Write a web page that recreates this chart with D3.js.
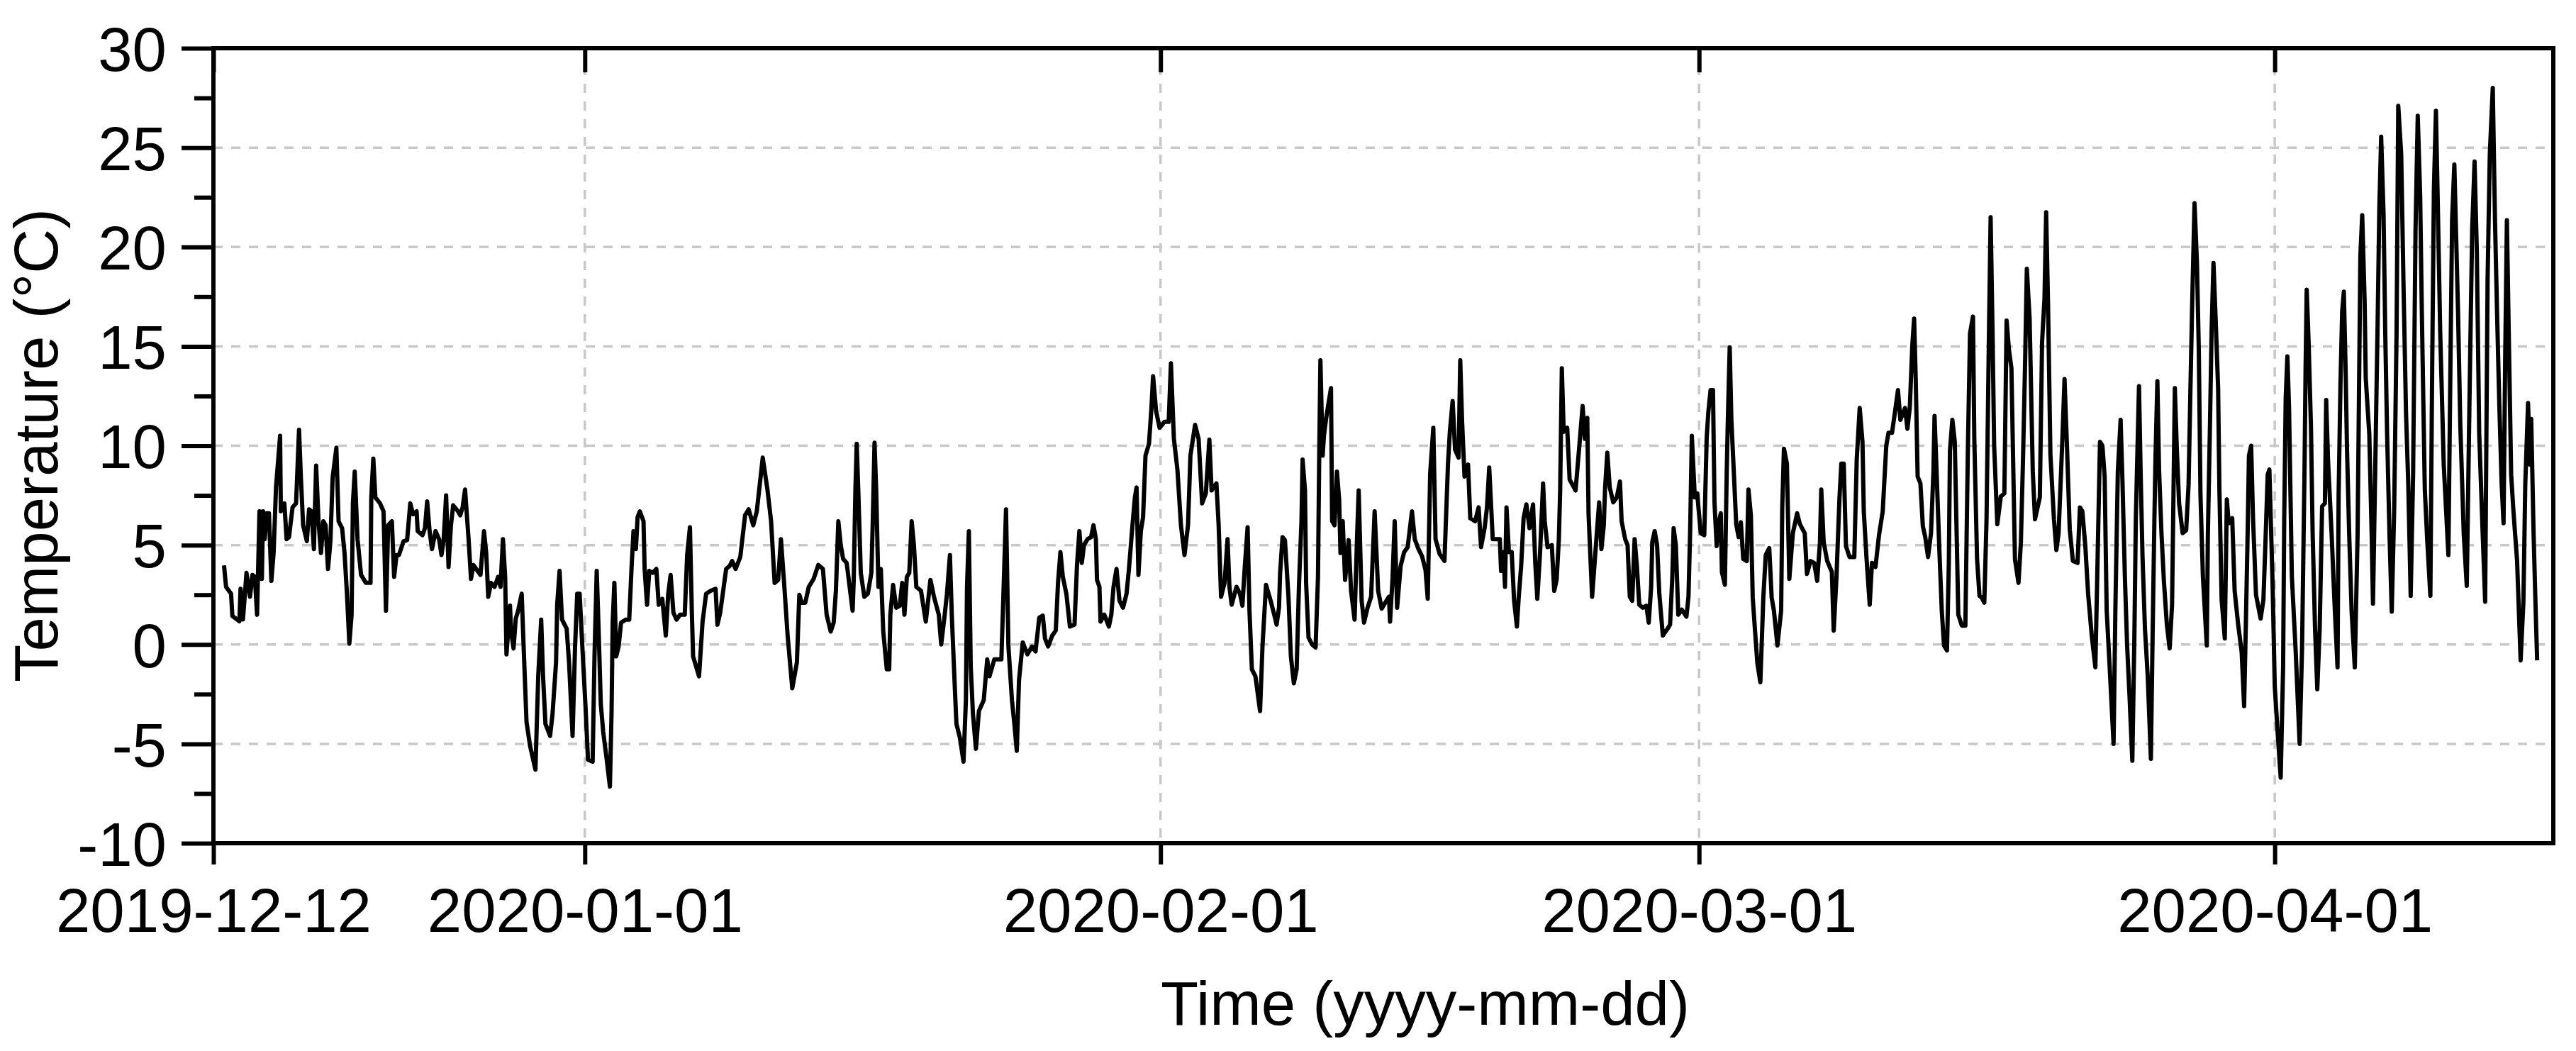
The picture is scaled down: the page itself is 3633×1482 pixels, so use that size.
<!DOCTYPE html>
<html>
<head>
<meta charset="utf-8">
<script src="https://cdn.jsdelivr.net/npm/d3@7"></script>
<style>
  body { margin: 0; background: #fff; }
  text { font-family: "Liberation Sans", Arial, sans-serif; fill: #000; }
</style>
</head>
<body>
<svg id="chart"></svg>
<script>
const startDate = '2019-12-12'
const endDate = '2020-04-16'
const xTickDates = ['2019-12-12', '2020-01-01', '2020-02-01', '2020-03-01', '2020-04-01']
const yTicks = [-10, -5, 0, 5, 10, 15, 20, 25, 30]
const yMinorTicks = [-7.5, -2.5, 2.5, 7.5, 12.5, 17.5, 22.5, 27.5]

// days since 2019-12-12 00:00
const dayOffset = [
  0.57,0.68,0.95,1.02,1.40,1.46,1.59,1.78,1.97,2.10,2.23,2.35,2.48,2.61,2.67,2.76,2.86,2.99,3.12,3.24,3.37,3.59,3.63,3.82,3.94,4.07,4.26,4.45,4.61,4.71,4.83,5.03,5.15,5.28,5.41,5.53,5.66,5.79,5.92,6.04,6.17,6.30,6.42,6.62,6.74,6.93,7.06,7.19,7.32,7.44,7.51,7.61,7.76,7.95,8.21,8.46,8.50,8.61,8.72,8.97,9.16,9.29,9.41,9.61,9.73,9.86,9.99,10.24,10.43,10.60,10.75,10.94,11.00,11.26,11.39,11.51,11.64,
  11.77,11.96,12.15,12.28,12.40,12.53,12.66,12.79,12.91,13.17,13.29,13.42,13.55,13.74,13.87,14.00,14.38,14.57,14.69,14.80,14.95,15.14,15.33,15.46,15.59,15.71,15.78,15.97,16.03,16.16,16.28,16.41,16.60,16.73,16.86,17.05,17.34,17.49,17.65,17.75,17.88,18.13,18.26,18.45,18.51,18.64,18.77,19.02,19.15,19.34,19.47,19.59,19.72,19.91,20.04,20.17,20.42,20.52,20.64,20.74,20.86,20.99,21.18,21.35,21.44,21.50,21.59,21.69,21.82,21.95,22.20,22.39,22.52,22.62,22.75,22.84,22.96,
  23.16,23.22,23.35,23.47,23.66,23.85,23.98,24.17,24.36,24.49,24.62,24.77,24.94,25.13,25.38,25.51,25.66,25.76,25.83,26.15,26.34,26.53,26.78,27.04,27.14,27.29,27.61,27.80,27.93,28.12,28.37,28.63,28.82,29.07,29.26,29.58,29.84,30.03,30.22,30.41,30.56,30.73,30.92,31.17,31.42,31.55,31.68,31.87,32.06,32.32,32.57,32.82,33.02,33.24,33.40,33.52,33.65,33.78,33.91,34.10,34.22,
  34.42,34.48,34.57,34.64,34.73,34.86,35.05,35.24,35.43,35.50,35.60,35.69,35.81,35.94,36.07,36.26,36.39,36.45,36.60,36.77,36.96,37.09,37.21,37.34,37.47,37.60,37.72,37.85,38.10,38.36,38.61,38.80,39.06,39.19,39.38,39.50,39.66,39.76,39.89,40.01,40.20,40.39,40.52,40.58,40.68,40.78,40.90,41.06,41.22,41.48,41.67,41.79,42.05,42.43,42.56,42.68,42.81,43.00,43.13,43.26,43.38,43.58,43.83,44.08,44.27,44.47,44.66,44.78,44.95,45.17,45.36,45.48,45.61,
  45.74,45.93,46.12,46.37,46.50,46.63,46.76,46.88,47.07,47.26,47.39,47.52,47.58,47.71,47.77,47.97,48.22,48.35,48.47,48.63,48.79,48.98,49.17,49.30,49.49,49.62,49.71,49.81,49.94,50.06,50.19,50.38,50.51,50.60,50.76,50.95,51.21,51.44,51.56,51.72,51.91,52.10,52.29,52.48,52.61,52.86,53.05,53.24,53.44,53.63,53.75,54.01,54.13,54.26,54.45,54.61,54.71,54.83,55.09,55.28,55.41,55.53,55.69,55.79,55.92,56.11,56.36,56.49,56.68,56.93,57.19,
  57.25,57.38,57.44,57.57,57.70,57.89,58.02,58.18,58.33,58.46,58.59,58.65,58.78,58.84,58.97,59.16,59.35,59.48,59.54,59.61,59.73,59.80,59.92,60.18,60.24,60.37,60.50,60.62,60.69,60.81,60.94,61.13,61.26,61.45,61.58,61.67,61.83,61.96,62.15,62.34,62.53,62.72,62.91,63.10,63.30,63.36,63.49,63.61,63.74,63.93,64.12,64.31,64.54,64.69,64.89,65.08,65.27,65.39,65.52,65.69,65.81,66.03,66.29,66.48,66.58,66.73,66.86,67.05,67.14,67.24,67.37,67.56,67.68,67.94,68.13,68.26,68.45,68.58,68.70,68.89,
  69.02,69.27,69.34,69.47,69.55,69.63,69.76,69.91,70.04,70.19,70.29,70.42,70.55,70.70,70.87,71.06,71.18,71.29,71.44,71.60,71.69,71.84,72.07,72.20,72.33,72.45,72.52,72.61,72.71,72.90,73.03,73.35,73.54,73.73,73.85,73.98,74.05,74.24,74.43,74.62,74.74,74.87,74.94,75.06,75.19,75.38,75.57,75.74,75.83,76.02,76.15,76.27,76.40,76.53,76.65,76.78,76.97,77.16,77.29,77.42,77.48,77.61,77.74,77.86,78.05,78.31,78.44,78.56,78.63,78.75,78.88,79.07,79.32,79.43,79.52,79.61,79.77,79.90,
  80.09,80.28,80.41,80.50,80.62,80.75,80.83,80.95,81.04,81.17,81.23,81.39,81.49,81.55,81.65,81.74,81.87,82.00,82.13,82.25,82.38,82.57,82.66,82.79,82.89,83.02,83.14,83.30,83.46,83.59,83.78,83.91,84.03,84.22,84.42,84.48,84.57,84.73,84.86,85.05,85.28,85.43,85.69,85.81,86.00,86.20,86.36,86.51,86.58,86.71,86.90,87.15,87.25,87.40,87.56,87.66,87.79,87.91,88.10,88.36,88.49,88.65,88.80,88.87,89.02,89.19,89.31,89.50,89.69,89.89,90.08,90.20,90.39,90.55,90.71,90.84,91.09,91.22,91.35,91.48,91.58,91.67,91.77,
  91.92,92.05,92.18,92.33,92.49,92.62,92.68,92.79,92.94,93.07,93.19,93.35,93.45,93.51,93.64,93.77,93.85,93.96,94.15,94.34,94.47,94.59,94.75,94.82,94.97,95.10,95.23,95.36,95.48,95.61,95.70,95.80,95.89,96.06,96.25,96.44,96.56,96.69,96.82,97.01,97.20,97.33,97.45,97.56,97.65,97.80,97.97,98.09,98.35,98.47,98.60,98.69,98.79,98.92,99.11,99.24,99.36,99.55,99.68,99.81,99.96,100.13,100.38,100.51,100.64,100.80,100.95,101.15,101.34,101.46,101.59,101.72,101.84,101.95,102.10,102.32,102.42,102.55,102.70,102.80,102.93,103.05,
  103.18,103.33,103.44,103.52,103.60,103.69,103.78,103.88,104.01,104.16,104.33,104.42,104.52,104.58,104.68,104.77,104.90,105.03,105.19,105.34,105.47,105.53,105.62,105.73,105.85,106.04,106.23,106.36,106.45,106.55,106.68,106.81,106.91,107.00,107.13,107.34,107.40,107.51,107.60,107.70,107.82,107.95,108.02,108.14,108.31,108.42,108.52,108.71,108.84,109.03,109.22,109.35,109.45,109.54,109.61,109.73,109.83,109.99,110.24,110.39,110.50,110.62,110.71,110.88,111.00,111.16,111.32,111.45,111.51,111.59,111.68,111.77,111.92,112.13,112.34,112.47,112.60,112.66,112.72,112.82,112.95,113.04,113.17,113.29,113.42,113.55,113.70,113.77,113.87,114.06,114.21,114.38,
  114.44,114.54,114.63,114.72,114.82,114.89,115.01,115.14,115.31,115.46,115.52,115.61,115.71,115.84,115.90,116.09,116.22,116.29,116.41,116.54,116.63,116.73,116.86,116.95,117.05,117.18,117.30,117.43,117.56,117.65,117.81,117.94,118.07,118.19,118.32,118.45,118.58,118.70,118.83,118.92,119.08,119.21,119.38,119.47,119.57,119.68,119.78,119.91,120.10,120.35,120.48,120.55,120.67,120.87,120.99,121.18,121.34,121.50,121.63,121.76,121.88,122.01,122.20,122.33,122.46,122.58,122.74,122.86,122.97,123.09,123.22,123.32,123.41,123.50,123.60,123.73,123.85,124.05,124.24,124.39,124.49,124.64,124.74,124.81,124.94,125.06,125.13
]

// temperature in °C
const temperature = [
  3.98,2.9,2.55,1.43,1.17,2.8,1.26,3.6,2.4,3.5,3.4,1.5,6.7,3.3,6.7,5.3,6.6,6.6,3.2,4.6,7.9,10.5,6.7,7.1,5.3,5.4,6.9,7.1,10.8,8.4,6.0,5.2,6.8,6.7,4.8,9.0,6.2,4.6,6.2,6.0,3.8,5.2,8.4,9.9,6.2,5.85,4.6,2.55,0.04,1.5,7.1,8.7,5.3,3.5,3.1,3.1,7.4,9.35,7.4,7.1,6.7,1.7,6.0,6.2,3.4,4.5,4.5,5.2,5.25,7.1,6.55,6.7,5.7,5.5,5.85,7.2,5.7,
  4.8,5.7,5.3,4.5,5.3,7.5,3.9,6.0,7.0,6.7,6.5,6.9,7.8,5.3,3.3,4.0,3.5,5.7,4.6,2.4,3.1,2.9,3.4,2.9,5.3,3.4,-0.5,1.95,0.65,-0.2,1.3,1.7,2.55,-0.75,-3.9,-5.1,-6.3,-1.6,1.25,-1.6,-4.0,-4.6,-3.5,-0.9,2.0,3.7,1.25,0.8,-0.9,-4.6,-0.2,2.55,2.55,-0.9,-3.2,-5.8,-5.9,-0.6,3.7,0.8,-3.0,-4.4,-5.8,-7.15,-3.35,1.15,3.1,-0.6,-0.1,1.1,1.25,1.25,3.95,5.7,4.8,6.4,6.7,
  6.2,3.8,2.0,3.7,3.6,3.8,2.0,2.3,0.45,2.55,3.5,1.6,1.25,1.5,1.5,4.5,5.9,1.7,-0.6,-1.6,1.15,2.55,2.7,2.8,1.0,1.6,3.8,3.95,4.2,3.8,4.4,6.5,6.8,6.0,6.7,9.4,7.75,6.2,3.1,3.25,5.3,3.1,0.45,-2.2,-0.9,2.5,2.1,2.1,2.9,3.3,4.0,3.8,1.5,0.65,1.1,2.7,6.2,5.0,4.3,4.1,3.2,
  1.7,3.25,7.75,10.1,7.6,3.6,2.4,2.55,3.6,6.0,10.15,7.75,2.9,3.8,0.65,-1.25,-1.25,1.5,3.0,1.85,1.95,3.1,1.5,3.4,3.6,6.2,5.0,2.9,2.7,1.15,3.25,2.4,1.5,0.0,1.5,2.55,4.5,1.5,-1.45,-4.0,-4.7,-5.9,-2.8,2.9,5.7,-1.1,-3.5,-5.25,-3.35,-2.8,-0.75,-1.6,-0.75,-0.75,3.1,6.8,-0.1,-2.8,-4.0,-5.35,-1.8,0.1,-0.5,-0.1,-0.35,1.35,1.45,0.3,-0.1,0.45,0.7,3.1,4.65,
  3.4,2.55,0.9,1.0,3.95,5.7,4.1,5.0,5.3,5.4,6.0,5.3,3.25,2.9,1.15,1.5,0.9,1.5,2.9,3.8,2.2,1.85,2.55,3.8,6.0,7.4,7.9,3.5,5.7,6.4,9.5,10.1,11.9,13.5,11.75,10.9,11.2,11.2,14.15,10.35,8.8,6.0,4.5,6.0,9.5,11.05,10.35,7.1,7.6,10.3,7.75,8.1,6.0,2.4,3.1,5.3,2.9,2.0,2.9,2.55,1.95,3.8,5.9,1.7,-1.25,-1.6,-3.35,-0.1,3.0,2.2,1.25,
  1.0,1.85,3.6,5.4,5.25,2.4,-0.6,-1.95,-1.25,3.1,6.2,9.3,7.75,3.1,0.35,0.0,-0.15,3.4,9.0,14.3,9.5,10.5,11.4,12.9,6.2,6.0,8.7,7.25,4.6,6.2,3.25,5.25,2.7,1.25,5.3,7.75,2.2,1.1,1.85,2.4,6.7,2.7,1.8,2.1,2.4,1.15,3.25,6.2,1.85,3.95,4.65,4.9,6.7,5.3,4.8,4.45,3.75,2.3,8.6,10.9,5.3,4.55,4.2,9.1,10.7,12.25,9.8,9.4,14.3,11.2,8.45,9.05,6.35,6.2,6.9,4.9,5.85,6.9,8.9,5.3,
  5.3,5.3,3.7,4.65,2.9,6.9,4.65,4.65,2.2,0.9,2.4,3.95,6.35,7.05,5.85,7.05,4.1,2.3,4.65,8.1,6.2,4.9,5.0,2.7,3.25,5.3,7.75,13.9,10.7,10.9,8.3,7.75,9.85,12.0,10.35,11.4,6.55,2.4,4.8,7.15,4.8,6.0,7.9,9.65,7.9,7.15,7.4,8.2,6.2,5.3,5.0,2.4,2.2,5.3,3.95,2.0,1.85,1.95,1.1,2.9,5.15,5.7,5.0,2.55,0.45,0.8,1.0,3.4,5.85,5.0,1.5,1.75,1.4,2.4,5.7,10.5,7.4,7.6,
  5.6,5.5,10.4,11.7,12.8,12.8,7.15,4.95,6.05,6.6,3.65,3.0,8.7,11.3,14.95,11.3,8.7,6.05,5.4,6.15,4.3,4.2,7.8,6.5,2.35,0.6,-0.95,-1.9,2.35,4.5,4.85,2.35,1.7,-0.05,1.7,6.9,9.85,9.1,3.3,5.6,6.6,6.05,5.6,3.55,4.2,4.1,3.2,5.15,7.8,5.15,4.2,3.65,0.7,3.4,7.35,9.1,9.1,4.95,4.4,4.4,9.3,11.9,10.2,6.7,4.3,2.0,4.1,3.9,5.5,6.7,10.0,10.65,10.65,11.7,12.8,11.3,11.9,10.85,11.95,15.0,16.4,13.25,8.45,
  8.1,5.95,5.4,4.4,5.6,8.7,11.5,8.7,4.75,1.7,-0.05,-0.3,4.1,9.75,11.3,10.2,6.5,1.5,0.95,0.95,9.55,15.65,16.5,10.4,4.3,2.45,2.35,2.1,6.3,15.65,21.5,15.9,10.0,6.05,7.45,7.6,16.3,14.8,13.9,4.3,3.1,5.15,9.55,14.35,18.9,16.4,8.7,6.3,7.4,15.2,17.4,21.75,17.2,9.55,6.3,4.75,5.6,10.0,13.35,10.0,5.8,4.2,4.1,6.9,6.7,4.95,2.55,0.4,-1.15,4.3,10.2,10.0,8.45,1.7,-0.95,-5.0,1.9,8.7,11.3,8.2,3.4,-0.05,
  -2.6,-5.85,0.3,6.35,9.5,13.0,8.55,4.4,0.8,-1.6,-5.75,0.3,6.35,9.5,13.25,8.8,5.6,3.2,1.0,-0.2,2.0,6.35,12.9,9.75,7.1,5.6,5.75,8.05,12.4,17.0,22.2,19.2,14.85,7.55,3.45,-0.05,5.6,10.95,15.8,19.2,16.3,12.9,7.8,2.25,0.3,7.3,6.1,6.35,2.7,1.0,-0.4,-3.1,1.3,5.6,9.5,10.0,6.35,2.5,1.3,2.25,5.15,8.55,8.8,3.2,-2.1,-4.5,-6.7,-1.15,6.35,12.4,14.5,11.9,3.45,-0.4,-5.0,-0.2,8.55,13.85,17.85,15.3,10.95,5.6,0.8,-2.25,0.8,6.95,7.1,12.3,9.25,5.6,2.25,-1.15,
  7.55,13.15,16.75,17.75,13.65,9.85,5.5,1.65,-1.15,5.5,11.1,19.55,21.6,17.25,13.4,10.6,5.5,2.05,8.8,16.2,21.85,25.55,21.6,15.7,10.6,5.5,1.65,6.75,15.7,27.1,24.65,17.75,11.6,8.05,2.45,8.55,20.85,26.6,22.6,16.75,7.8,5.25,2.45,13.15,22.9,26.85,22.1,15.7,9.05,4.5,15.7,21.35,24.15,16.75,11.1,5.5,2.95,13.15,20.85,24.3,19.8,10.6,5.5,2.15,18.3,24.65,28.0,21.35,16.75,12.15,8.05,6.1,14.45,21.35,15.7,8.55,6.75,4.2,-0.8,2.15,8.05,12.15,9.05,11.35,5.5,1.4,-0.8
]

const width = 3633
const height = 1482
const plotLeft = 301
const plotRight = 3601
const plotTop = 68
const plotBottom = 1189
const fontSize = 87

const parseDate = d3.utcParse('%Y-%m-%d')
const t0 = parseDate(startDate)
const n = Math.min(dayOffset.length, temperature.length)
if (dayOffset.length !== temperature.length) console.log('length mismatch', dayOffset.length, temperature.length)
const data = d3.range(n).map(i => ({ time: new Date(t0.getTime() + dayOffset[i] * 864e5), temp: temperature[i] }))

const svg = d3.select('#chart')
  .attr('width', width)
  .attr('height', height)

const xScale = d3.scaleUtc().domain([t0, parseDate(endDate)]).range([plotLeft, plotRight])
const yScale = d3.scaleLinear().domain([-10, 30]).range([plotBottom, plotTop])

// grid lines
svg.append('g').selectAll('line')
  .data(yTicks.filter(d => d > -10 && d < 30))
  .enter().append('line')
  .attr('x1', plotLeft).attr('x2', plotRight)
  .attr('y1', d => yScale(d)).attr('y2', d => yScale(d))
  .attr('stroke', '#c8c8c8').attr('stroke-width', 3.5).attr('stroke-dasharray', '13,12')

svg.append('g').selectAll('line')
  .data(xTickDates.slice(1).map(parseDate))
  .enter().append('line')
  .attr('x1', d => xScale(d)).attr('x2', d => xScale(d))
  .attr('y1', plotTop).attr('y2', plotBottom)
  .attr('stroke', '#c8c8c8').attr('stroke-width', 3.5).attr('stroke-dasharray', '13,12')

// temperature line
const line = d3.line().x(d => xScale(d.time)).y(d => yScale(d.temp))
svg.append('path')
  .datum(data)
  .attr('d', line)
  .attr('fill', 'none')
  .attr('stroke', '#000')
  .attr('stroke-width', 6)
  .attr('stroke-linejoin', 'round')

// axes
const yAxis = d3.axisLeft(yScale).tickValues(yTicks).tickSize(45).tickSizeOuter(0).tickPadding(21)
  .tickFormat(d => String(d))   // plain hyphen like the original
const yMinor = d3.axisLeft(yScale).tickValues(yMinorTicks).tickSize(27).tickSizeOuter(0).tickFormat('')
const xAxis = d3.axisBottom(xScale).tickValues(xTickDates.map(parseDate)).tickSize(30).tickSizeOuter(0)
  .tickPadding(33).tickFormat(d3.utcFormat('%Y-%m-%d'))
const xTop = d3.axisTop(xScale).tickValues(xTickDates.map(parseDate)).tickSize(-34).tickSizeOuter(0).tickFormat('')

const gy = svg.append('g').attr('transform', `translate(${plotLeft},0)`).call(yAxis)
const gyMinor = svg.append('g').attr('transform', `translate(${plotLeft},0)`).call(yMinor)
const gx = svg.append('g').attr('transform', `translate(0,${plotBottom})`).call(xAxis)
const gxTop = svg.append('g').attr('transform', `translate(0,${plotTop})`).call(xTop)

;[gy, gyMinor, gx, gxTop].forEach(g => {
  g.select('.domain').remove()
  g.selectAll('line').attr('stroke', '#000').attr('stroke-width', 6)
  g.selectAll('text').attr('font-size', fontSize).attr('font-family', '"Liberation Sans", Arial, sans-serif')
})
gy.selectAll('text').attr('dy', '0.36em')

// frame
svg.append('rect')
  .attr('x', plotLeft).attr('y', plotTop)
  .attr('width', plotRight - plotLeft).attr('height', plotBottom - plotTop)
  .attr('fill', 'none').attr('stroke', '#000').attr('stroke-width', 6)

// axis titles
svg.append('text')
  .attr('x', 2010).attr('y', 1445)
  .attr('text-anchor', 'middle')
  .attr('font-size', fontSize)
  .text('Time (yyyy-mm-dd)')

svg.append('text')
  .attr('transform', `translate(81,628) rotate(-90)`)
  .attr('text-anchor', 'middle')
  .attr('font-size', fontSize)
  .text('Temperature (°C)')
</script>
</body>
</html>
